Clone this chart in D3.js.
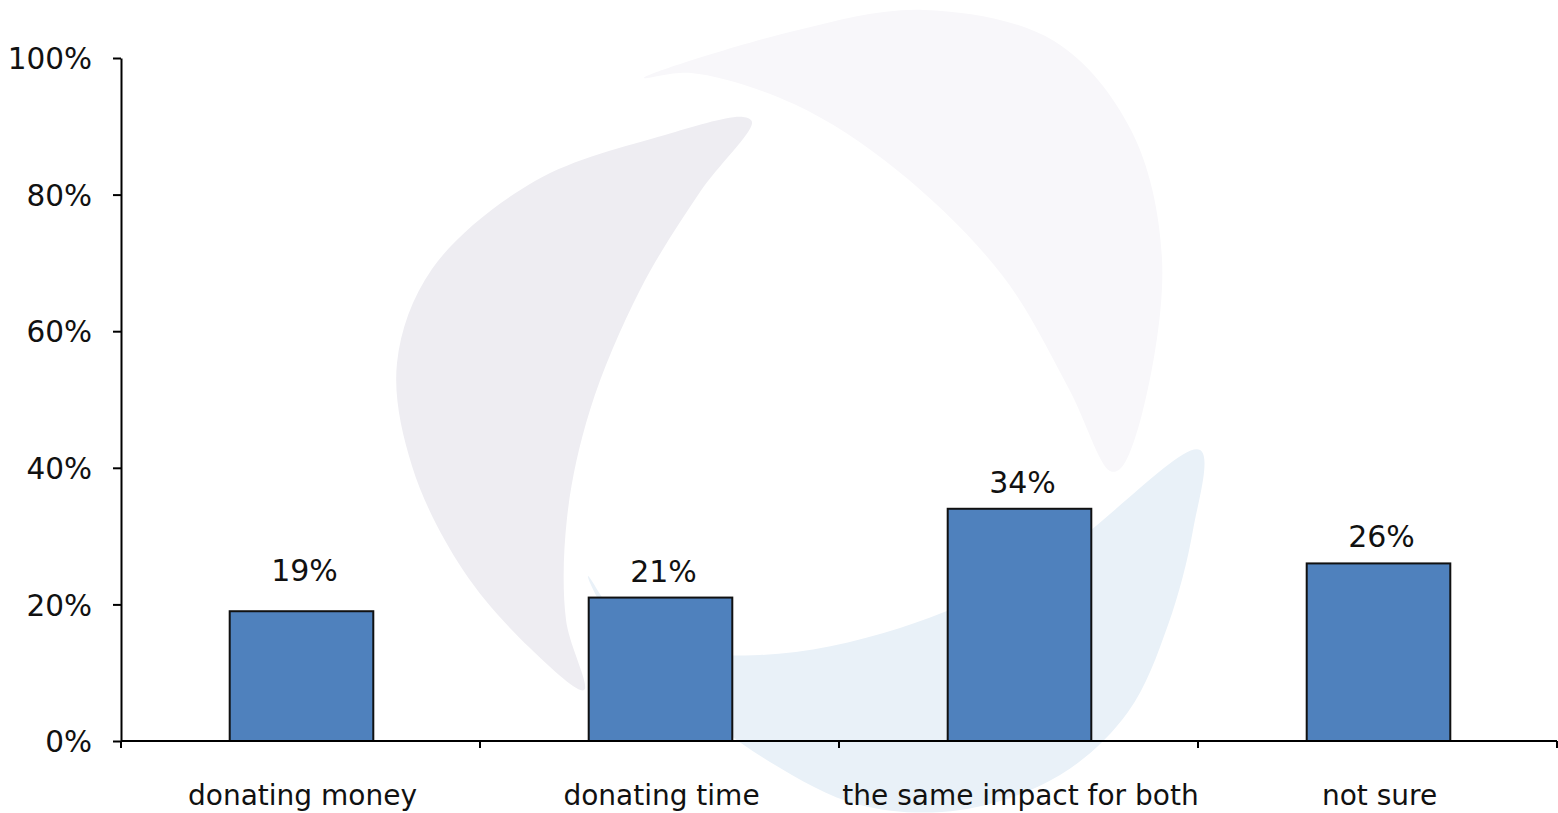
<!DOCTYPE html>
<html><head><meta charset="utf-8">
<script src="https://cdn.jsdelivr.net/npm/d3@7"></script>
<style>
html,body{margin:0;padding:0;background:#fff;}
svg{display:block;}
text{font-family:"DejaVu Sans",Verdana,sans-serif;fill:#111;}
</style></head>
<body>
<svg id="chart" width="1558" height="813"></svg>
<script>
const categories = ["donating money", "donating time", "the same impact for both", "not sure"];
const values = [19, 21, 34, 26];
const valueLabels = ["19%", "21%", "34%", "26%"];
const yTicks = [0, 20, 40, 60, 80, 100];

const W = 1558, H = 813;
const m = {left: 121, right: 1, top: 58, bottom: 72};
const svg = d3.select("#chart");

// watermark swooshes (decorative background)
const wm = svg.append("g");
const line = d3.line().curve(d3.curveCatmullRomClosed.alpha(0.5));
const swooshes = [
  {c:"#eeedf2", p:[[752,122],[700,192],[640,290],[590,410],[567,518],[566,620],[584,690],[530,648],[463,570],[412,466],[397,363],[432,269],[535,181],[665,135],[743,117]]},
  {c:"#f8f7fa", p:[[644,78],[794,31],[924,10],[1054,41],[1131,130],[1162,259],[1142,414],[1120,469],[1110,471],[1069,389],[1002,275],[898,171],[794,104],[691,73]]},
  {c:"#e9f1f8", p:[[1200,450],[1193,530],[1168,625],[1128,712],[1060,775],[960,810],[860,805],[770,762],[680,695],[618,632],[588,576],[640,640],[760,655],[900,628],[1050,560]]}
];
swooshes.forEach(s => wm.append("path").attr("d", line(s.p)).attr("fill", s.c));

const x = d3.scaleBand().domain(categories).range([m.left, W - m.right]).paddingInner(0).paddingOuter(0);
const y = d3.scaleLinear().domain([0, 100]).range([H - m.bottom, m.top]);
const bw = x.bandwidth() * 0.4;

// bars
svg.append("g").selectAll("rect").data(values).join("rect")
  .attr("x", (d,i) => x(categories[i]) + (x.bandwidth() - bw) / 2 + 1)
  .attr("y", d => y(d))
  .attr("width", bw)
  .attr("height", d => y(0) - y(d))
  .attr("fill", "#4f81bd")
  .attr("stroke", "#111")
  .attr("stroke-width", 2);

// value labels
const labelLift = [30, 16, 16, 16];
svg.append("g").selectAll("text").data(values).join("text")
  .attr("x", (d,i) => x(categories[i]) + x.bandwidth() / 2 + 4)
  .attr("y", (d,i) => y(d) - labelLift[i])
  .attr("text-anchor", "middle")
  .attr("font-size", 30)
  .text((d,i) => valueLabels[i]);

// y axis
const yAxis = d3.axisLeft(y).tickValues(yTicks).tickFormat(d => d + "%").tickSize(8).tickSizeOuter(0);
const gy = svg.append("g").attr("transform", `translate(${m.left},0)`).call(yAxis);
gy.select(".domain").attr("stroke", "#000").attr("stroke-width", 2);
gy.selectAll(".tick line").attr("stroke", "#000").attr("stroke-width", 2);
gy.selectAll(".tick text").attr("font-size", 29.5).attr("font-family", '"DejaVu Sans",Verdana,sans-serif').attr("fill", "#111").attr("x", -29).attr("dy", "0.36em");

// x axis
const gx = svg.append("g").attr("transform", `translate(0,${y(0)})`);
gx.append("line").attr("x1", m.left).attr("x2", W - m.right).attr("stroke", "#000").attr("stroke-width", 2);
const boundaries = categories.map(c => x(c)).concat([x(categories[categories.length-1]) + x.bandwidth()]);
gx.selectAll("line.tk").data(boundaries).join("line").attr("class","tk")
  .attr("x1", d => d).attr("x2", d => d).attr("y1", 0).attr("y2", 7)
  .attr("stroke", "#000").attr("stroke-width", 2);
gx.selectAll("text").data(categories).join("text")
  .attr("x", d => x(d) + x.bandwidth() / 2 + 2)
  .attr("y", 64)
  .attr("text-anchor", "middle")
  .attr("font-size", 28)
  .text(d => d);
</script>
</body></html>
